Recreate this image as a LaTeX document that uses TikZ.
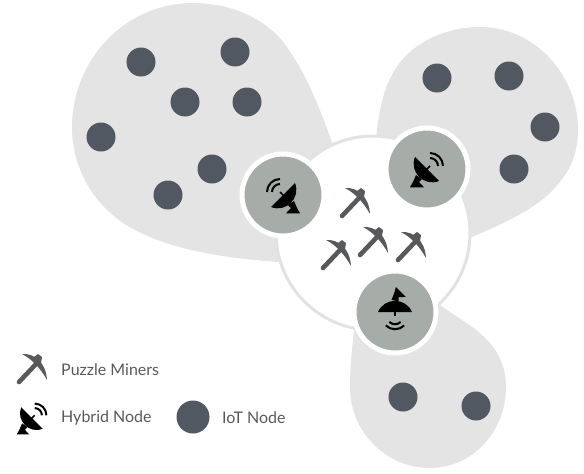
\documentclass[tikz,border=0pt]{standalone}
\usepackage{fontspec}
\setmainfont{Lato}
\usepackage{xcolor}
\definecolor{blobgray}{HTML}{E4E4E4}
\definecolor{ringgray}{HTML}{E0E2E4}
\definecolor{hubgray}{HTML}{A6ACA8}
\definecolor{iotgray}{HTML}{525862}
\definecolor{pickgray}{HTML}{58595B}
\tikzstyle{blob}   = [fill=blobgray]
\tikzstyle{iot}    = [circle, fill=iotgray, inner sep=0pt, minimum size=29pt]
\tikzstyle{hub}    = [circle, draw=white, line width=5pt, fill=hubgray, inner sep=0pt, minimum size=82pt]
\tikzstyle{legend} = [anchor=west, inner sep=0pt, text=black!65, font=\fontsize{16}{18}\selectfont]
\tikzset{
  pickaxe/.pic={
    \draw [pickgray, line width=4.6pt, line cap=round] (-13,13) -- (5,-6);
    \fill [pickgray] (-10,-15) .. controls (3,-16) and (14,-6) .. (15,11)
          .. controls (9,0) and (0,-10) .. (-10,-15) -- cycle;
    \fill [pickgray] (2,-12) -- (6,-15) -- (10,-12) -- (9,-6) -- (4,-5) -- cycle;
  },
  dish/.pic={
    \fill [black] (12,-12) .. controls (18,3) and (3,18) .. (-12,12) -- cycle;
    \fill [black] (3,18.3) -- (17,18.3) -- (14,13) -- (11,6) -- (5,10) -- (8,13) -- cycle;
    \draw [black, line width=1.6pt] (1,1) -- (-3,-3);
    \foreach \r in {8,13}
      \draw [black, line width=2pt] ([shift={(90:\r pt)}]-3,-3) arc [start angle=90, end angle=180, radius=\r pt];
  }
}
\begin{document}
\begin{tikzpicture}[x=1pt, y=-1pt]
    \useasboundingbox (0,0) rectangle (584,474);

    % clusters
    \fill [blob] (278,262) .. controls (225,258) and (165,250) .. (123,223)
          .. controls (90,200) and (72,165) .. (72,127)
          .. controls (72,60) and (125,3) .. (193,3)
          .. controls (235,3) and (270,22) .. (287,47)
          .. controls (310,80) and (322,115) .. (335,150) -- cycle;
    \fill [blob] (376,140) .. controls (378,115) and (383,90) .. (393,73)
          .. controls (408,45) and (443,27) .. (480,27)
          .. controls (535,27) and (578,75) .. (578,130)
          .. controls (578,160) and (565,178) .. (550,193)
          .. controls (530,212) and (500,225) .. (472,237) -- cycle;
    \fill [blob] (440,305) .. controls (455,316) and (468,323) .. (480,333)
          .. controls (497,348) and (506,365) .. (506,387)
          .. controls (506,432) and (472,468) .. (430,468)
          .. controls (386,468) and (350,432) .. (350,387)
          .. controls (350,365) and (352,350) .. (354,330) -- cycle;

    \node (core) at (373,233) [circle, draw=ringgray, line width=3pt, fill=white, inner sep=0pt, minimum size=194pt] {};

    \node (iot1)  at (141,62)  [iot] {};
    \node (iot2)  at (235,52)  [iot] {};
    \node (iot3)  at (185,102) [iot] {};
    \node (iot4)  at (247,102) [iot] {};
    \node (iot5)  at (101,137) [iot] {};
    \node (iot6)  at (212,169) [iot] {};
    \node (iot7)  at (168,195) [iot] {};
    \node (iot8)  at (437,78)  [iot] {};
    \node (iot9)  at (509,76)  [iot] {};
    \node (iot10) at (545,127) [iot] {};
    \node (iot11) at (514,169) [iot] {};
    \node (iot12) at (403,397) [iot] {};
    \node (iot13) at (476,406) [iot] {};

    \node (hubleft)   at (283,195) [hub] {};
    \node (hubright)  at (427,169) [hub] {};
    \node (hubbottom) at (395,312) [hub] {};
    \pic at (hubleft) {dish};
    \pic [xscale=-1] at (hubright) {dish};
    \pic [rotate=135] at (hubbottom) {dish};

    \pic at (355,203) {pickaxe};
    \pic at (336,255) {pickaxe};
    \pic at (373,242) {pickaxe};
    \pic at (411,247) {pickaxe};

    % legend
    \pic at (32,369) {pickaxe};
    \pic [xscale=-0.9, yscale=0.9] at (32,418) {dish};
    \node (iotkey) at (193,417) [iot, minimum size=33pt] {};
    \node (minerlabel)  at (61,370)  [legend] {Puzzle Miners};
    \node (hybridlabel) at (61,418)  [legend] {Hybrid Node};
    \node (iotlabel)    at (222,418) [legend] {IoT Node};
\end{tikzpicture}
\end{document}
